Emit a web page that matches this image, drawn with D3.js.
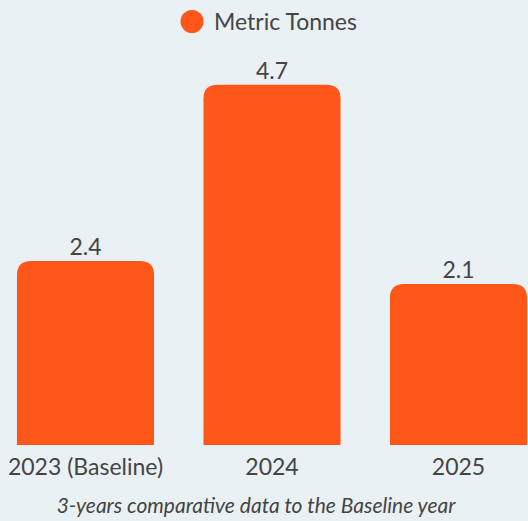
<!DOCTYPE html>
<html>
<head>
<meta charset="utf-8">
<script src="https://cdn.jsdelivr.net/npm/d3@7"></script>
<style>
  html, body { margin: 0; padding: 0; background: #eaf1f4; }
  svg { display: block; font-family: Lato, "Open Sans", sans-serif; }
</style>
</head>
<body>
<svg id="chart" width="528" height="521"></svg>
<script>
// Annual totals in metric tonnes
const categories = ["2023 (Baseline)", "2024", "2025"];
const values = [2.4, 4.7, 2.1];
const seriesName = "Metric Tonnes";
const caption = "3-years comparative data to the Baseline year";

const W = 528, H = 521;
const barColor = "#ff5719";
const textColor = "#444444";
const radius = 14;
const labelSize = 23;

const svg = d3.select("#chart");
svg.append("rect").attr("width", W).attr("height", H).attr("fill", "#eaf1f4");

const x = d3.scaleBand()
  .domain(categories)
  .range([-7.75, 551.75])
  .paddingInner(0.265)
  .paddingOuter(0.1325);

const baseY = 445;
const y = d3.scaleLinear().domain([0, 5]).range([baseY, baseY - 383.3]);

// Bar path with rounded top corners only
function barPath(x0, w, yTop, yBottom, r) {
  const rr = Math.min(r, w / 2, yBottom - yTop);
  return `M${x0},${yBottom}` +
    `V${yTop + rr}` +
    `Q${x0},${yTop} ${x0 + rr},${yTop}` +
    `H${x0 + w - rr}` +
    `Q${x0 + w},${yTop} ${x0 + w},${yTop + rr}` +
    `V${yBottom}Z`;
}

const data = categories.map((c, i) => ({ cat: c, val: values[i] }));

svg.append("g").selectAll("path")
  .data(data)
  .join("path")
  .attr("d", d => barPath(x(d.cat), x.bandwidth(), y(d.val), y(0), radius))
  .attr("fill", barColor);

// Value labels above bars
svg.append("g").selectAll("text")
  .data(data)
  .join("text")
  .attr("x", d => x(d.cat) + x.bandwidth() / 2)
  .attr("y", d => y(d.val) - 6)
  .attr("text-anchor", "middle")
  .attr("font-size", labelSize)
  .attr("fill", textColor)
  .text(d => d.val.toFixed(1));

// Category axis
const xAxis = d3.axisBottom(x).tickSize(0).tickPadding(0);
const gx = svg.append("g").attr("transform", `translate(0,${baseY})`).call(xAxis);
gx.select(".domain").remove();
gx.selectAll("text")
  .attr("dy", null)
  .attr("y", 30)
  .attr("font-size", labelSize)
  .attr("font-family", "Lato, 'Open Sans', sans-serif")
  .attr("fill", textColor);

// Legend
const legend = svg.append("g");
legend.append("circle").attr("cx", 192).attr("cy", 21.5).attr("r", 11.5).attr("fill", barColor);
legend.append("text")
  .attr("x", 214).attr("y", 30)
  .attr("font-size", labelSize)
  .attr("fill", textColor)
  .text(seriesName);

// Caption
svg.append("text")
  .attr("x", 256).attr("y", 513)
  .attr("text-anchor", "middle")
  .attr("font-size", 21)
  .attr("font-style", "italic")
  .attr("fill", textColor)
  .text(caption);
</script>
</body>
</html>
